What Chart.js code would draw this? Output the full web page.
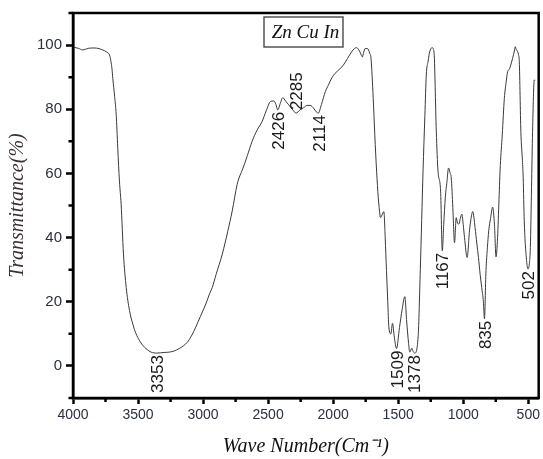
<!DOCTYPE html>
<html><head><meta charset="utf-8">
<script src="https://cdn.jsdelivr.net/npm/chart.js@4"></script>
<style>html,body{margin:0;padding:0;background:#fff;}#wrap{width:543px;height:459px;}</style>
</head><body><div id="wrap"><canvas id="c" width="543" height="459"></canvas></div>
<script>
const wavenumbers = [4000,3960,3926,3880,3840,3800,3757,3730,3719,3700,3694,3680,3668,3656,3643,3630,3612,3591,3566,3540,3515,3490,3464,3430,3400,3353,3300,3260,3220,3184,3150,3120,3090,3056,3020,2979,2950,2929,2900,2852,2810,2776,2738,2715,2699,2660,2623,2585,2546,2515,2482,2457,2440,2426,2405,2388,2365,2342,2310,2285,2255,2227,2200,2176,2150,2130,2114,2090,2060,2036,2010,1985,1950,1921,1890,1858,1837,1820,1806,1790,1776,1765,1755,1735,1720,1709,1692,1680,1666,1653,1640,1636,1625,1610,1600,1590,1580,1572,1556,1544,1530,1513,1490,1470,1449,1435,1420,1411,1395,1385,1373,1347,1330,1309,1295,1284,1270,1258,1240,1225,1207,1194,1174,1161,1150,1138,1125,1113,1100,1092,1080,1067,1054,1044,1034,1022,1011,1000,990,970,952,940,927,909,895,883,870,858,845,837,825,814,804,790,774,760,748,736,725,715,700,684,670,659,645,639,621,605,600,595,588,575,569,557,545,539,531,513,502,490,484,475,467,454,447];
const transmittance = [99.4,99.0,98.5,99.0,99.1,98.9,98.2,97.5,96.9,92.5,89.6,84,78.4,68,57.6,50.4,34.9,24.5,17.3,13,10.0,8,6.4,5.1,4.3,4.0,4.2,4.3,4.7,5.4,6.3,7.4,9.3,12.1,15.5,19.3,22.5,24.5,28.5,34.9,42,48.3,56.6,59.5,61,65.5,70.0,73.5,76.2,79.5,82.4,82.6,81.5,79.8,82,83.6,82.5,81.4,79.8,78.8,79.8,80.5,81.2,81.2,80.3,79.2,78.8,81.5,85.5,87.6,89.8,91.2,92.5,93.8,95.8,97.9,98.9,99.2,98.7,97.5,96.3,97.8,98.9,98.9,97.5,95.8,83.4,72,60.7,52.4,47,46.2,47,48.1,40,29.7,20,12.1,10.0,13.3,9,5.4,12,17.5,21.6,14,7,4.3,5.5,4.5,4.0,9.0,30,60.7,78,90.7,95,97.9,99.2,97.9,73.1,60.7,54.5,35.9,44,52.4,57.5,61.7,60,58.6,49.3,38.4,46.2,44.5,44.2,46,47.3,44,40.0,33.8,42.1,46,48.1,43.1,38,33.8,28.5,24.5,20,14.7,29.7,37,42.1,46,49.5,44,34.0,40.0,52,62.5,72,83.4,88.5,91.7,92.5,93.2,95.8,98.5,99.5,98.9,98.4,97,94.8,73.1,64,58.6,45.2,32.8,30.2,32.5,36.9,55.5,73.1,89.1,89.0];
const peakWavenumbers = [3353,2426,2285,2114,1509,1378,1167,835,502];
const peakLabelAbove = [false,false,true,false,false,false,false,false,false];
const xMajorTicks = [4000,3500,3000,2500,2000,1500,1000,500];
const xMinorTicks = [3750,3250,2750,2250,1750,1250,750];
const yMajorTicks = [0,20,40,60,80,100];
const sampleName = 'Zn Cu In';
const xTitle = 'Wave Number(Cm\u207B\u00B9)';
const yTitle = 'Transmittance(%)';

const SANS = '"Liberation Sans", Arial, sans-serif';
const SERIF = '"Liberation Serif", "Times New Roman", serif';
const tickColor = '#2c2f40';

const points = wavenumbers.map((w, i) => ({x: w, y: transmittance[i]}));

const framePlugin = {
  id: 'frame',
  afterDraw(chart) {
    const {ctx, chartArea: a, scales} = chart;
    ctx.save();
    // frame
    ctx.strokeStyle = '#000';
    ctx.lineWidth = 2.5;
    ctx.strokeRect(a.left, a.top, a.right - a.left, a.bottom - a.top);
    // minor ticks
    ctx.lineWidth = 2.5;
    ctx.beginPath();
    xMinorTicks.forEach(v => {
      const px = scales.x.getPixelForValue(v);
      ctx.moveTo(px, a.bottom); ctx.lineTo(px, a.bottom + 4);
    });
    for (let v = -10; v <= 110; v += 10) {
      if (yMajorTicks.includes(v)) continue;
      const py = scales.y.getPixelForValue(v);
      ctx.moveTo(a.left, py); ctx.lineTo(a.left - 4.5, py);
    }
    ctx.stroke();
    // sample name box
    const bx = a.left + 191, by = a.top + 4, bw = 79, bh = 30;
    ctx.fillStyle = '#fff';
    ctx.fillRect(bx, by, bw, bh);
    ctx.strokeStyle = '#555';
    ctx.lineWidth = 1.5;
    ctx.strokeRect(bx, by, bw, bh);
    ctx.fillStyle = '#111';
    ctx.font = 'italic 19px ' + SERIF;
    ctx.textAlign = 'center';
    ctx.textBaseline = 'middle';
    ctx.fillText(sampleName, bx + bw / 2 + 2, by + bh / 2 + 1);
    // peak labels
    ctx.font = '17px ' + SANS;
    ctx.fillStyle = '#1a1a1a';
    peakWavenumbers.forEach((w, i) => {
      let best = 0;
      wavenumbers.forEach((ww, j) => { if (Math.abs(ww - w) < Math.abs(wavenumbers[best] - w)) best = j; });
      const px = scales.x.getPixelForValue(w) + 1.5;
      const py = scales.y.getPixelForValue(transmittance[best]);
      ctx.save();
      ctx.translate(px, py);
      ctx.rotate(-Math.PI / 2);
      ctx.textBaseline = 'middle';
      if (peakLabelAbove[i]) { ctx.textAlign = 'left'; ctx.fillText(String(w), 3, 0); }
      else { ctx.textAlign = 'right'; ctx.fillText(String(w), -2, 0); }
      ctx.restore();
    });
    ctx.restore();
  }
};

new Chart(document.getElementById('c'), {
  type: 'line',
  data: {
    datasets: [{
      data: points,
      borderColor: '#3a3a3a',
      borderWidth: 1,
      pointRadius: 0,
      cubicInterpolationMode: 'monotone',
      fill: false
    }]
  },
  options: {
    responsive: false,
    animation: false,
    devicePixelRatio: 1,
    layout: {padding: {top: 12, right: 2, left: 0, bottom: 0}},
    plugins: {legend: {display: false}, tooltip: {enabled: false}},
    scales: {
      x: {
        type: 'linear',
        reverse: true,
        min: 420,
        max: 4000,
        afterBuildTicks(scale) {
          scale.ticks = xMajorTicks.map(v => ({value: v}));
        },
        afterFit(scale) { scale.height = 61; },
        grid: {drawOnChartArea: false, drawTicks: true, tickLength: 6, tickWidth: 2.5, tickColor: '#000'},
        border: {display: true, color: '#000', width: 2.5},
        ticks: {
          color: tickColor,
          font: {family: SANS, size: 14},
          padding: 3,
          maxRotation: 0,
          autoSkip: false,
          callback: v => String(v)
        },
        title: {
          display: true,
          text: xTitle,
          color: '#111',
          font: {family: SERIF, style: 'italic', size: 20},
          padding: {top: 2, bottom: 0}
        }
      },
      y: {
        type: 'linear',
        min: -10,
        max: 110,
        afterBuildTicks(scale) {
          scale.ticks = yMajorTicks.map(v => ({value: v}));
        },
        afterFit(scale) { scale.width = 73; },
        grid: {drawOnChartArea: false, drawTicks: true, tickLength: 7, tickWidth: 2.5, tickColor: '#000'},
        border: {display: true, color: '#000', width: 2.5},
        ticks: {
          color: tickColor,
          font: {family: SANS, size: 15},
          padding: 4,
          autoSkip: false,
          callback: v => String(v)
        },
        title: {
          display: true,
          text: yTitle,
          color: '#3a2f38',
          font: {family: SERIF, style: 'italic', size: 20},
          padding: {top: 6, bottom: 0}
        }
      }
    }
  },
  plugins: [framePlugin]
});
</script>
</body></html>
